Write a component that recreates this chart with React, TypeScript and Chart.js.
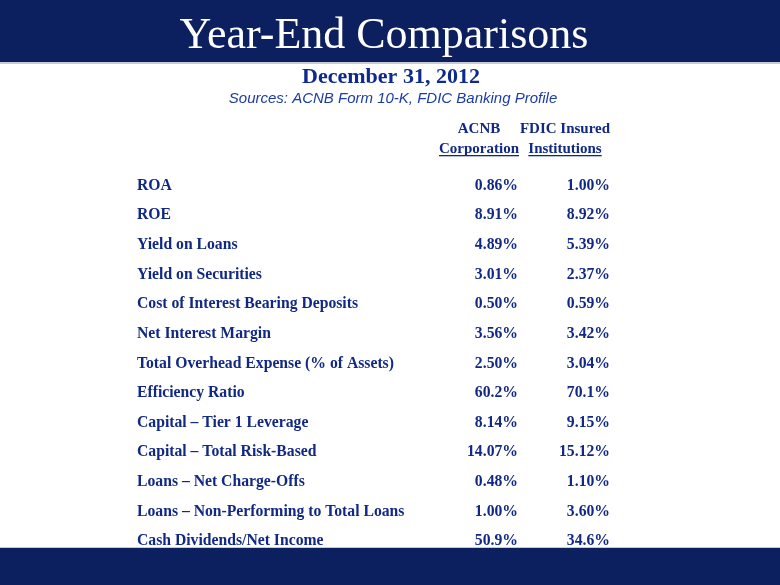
import { useEffect, useRef } from 'react';
import { Chart, registerables } from 'chart.js';

Chart.register(...registerables);

const titleText = 'Year-End Comparisons';
const subtitleText = 'December 31, 2012';
const sourceText = 'Sources: ACNB Form 10-K, FDIC Banking Profile';

const rowLabels = [
  'ROA',
  'ROE',
  'Yield on Loans',
  'Yield on Securities',
  'Cost of Interest Bearing Deposits',
  'Net Interest Margin',
  'Total Overhead Expense (% of Assets)',
  'Efficiency Ratio',
  'Capital \u2013 Tier 1 Leverage',
  'Capital \u2013 Total Risk-Based',
  'Loans \u2013 Net Charge-Offs',
  'Loans \u2013 Non-Performing to Total Loans',
  'Cash Dividends/Net Income',
];

const acnbValues = [0.86, 8.91, 4.89, 3.01, 0.5, 3.56, 2.5, 60.2, 8.14, 14.07, 0.48, 1.0, 50.9];
const fdicValues = [1.0, 8.92, 5.39, 2.37, 0.59, 3.42, 3.04, 70.1, 9.15, 15.12, 1.1, 3.6, 34.6];
const valueDecimals = [2, 2, 2, 2, 2, 2, 2, 1, 2, 2, 2, 2, 1];

const acnbHeader = ['ACNB', 'Corporation'];
const fdicHeader = ['FDIC Insured', 'Institutions'];

const BAND = '#0c1f5f';
const TEXT = '#112884';
const SERIF = '"Times New Roman", "Liberation Serif", serif';
const SANS = 'Arial, "Liberation Sans", sans-serif';

export default function App() {
  const ref = useRef<HTMLCanvasElement>(null);

  useEffect(() => {
    const canvas = ref.current;
    if (!canvas) return;

    const slidePlugin = {
      id: 'slide',
      beforeDraw(chart: any) {
        const { ctx, width, height } = chart;
        ctx.save();
        ctx.fillStyle = '#ffffff';
        ctx.fillRect(0, 0, width, height);
        ctx.fillStyle = BAND;
        ctx.fillRect(0, 0, width, 62);
        ctx.fillStyle = '#c8cad6';
        ctx.fillRect(0, 62, width, 2);
        ctx.fillRect(0, 547, width, 1);
        ctx.fillStyle = BAND;
        ctx.fillRect(0, 548, width, height - 548);

        ctx.textAlign = 'center';
        ctx.textBaseline = 'alphabetic';
        ctx.fillStyle = '#ffffff';
        ctx.font = `44px ${SERIF}`;
        ctx.fillText(titleText, 384, 48);

        ctx.fillStyle = '#0e2a8c';
        ctx.font = `bold 22px ${SERIF}`;
        ctx.fillText(subtitleText, 391, 83);

        ctx.fillStyle = '#1c3ca6';
        ctx.font = `italic 15px ${SANS}`;
        ctx.fillText(sourceText, 393, 103);
        ctx.restore();
      },
      afterDatasetsDraw(chart: any) {
        const { ctx } = chart;
        const xs = chart.scales.x;
        const ys = chart.scales.y;
        ctx.save();
        ctx.fillStyle = TEXT;
        ctx.strokeStyle = TEXT;

        // column headers
        ctx.font = `bold 15px ${SERIF}`;
        ctx.textAlign = 'center';
        ctx.textBaseline = 'alphabetic';
        const headers = [
          { lines: acnbHeader, cx: xs.getPixelForValue(1) - 39 },
          { lines: fdicHeader, cx: xs.getPixelForValue(2) - 45 },
        ];
        headers.forEach((h) => {
          ctx.fillText(h.lines[0], h.cx, 133);
          ctx.fillText(h.lines[1], h.cx, 153);
          const w = ctx.measureText(h.lines[1]).width;
          ctx.fillRect(h.cx - w / 2, 155, w, 1.3);
        });

        // row labels
        ctx.font = `bold 15.7px ${SERIF}`;
        ctx.textBaseline = 'middle';
        ctx.textAlign = 'left';
        rowLabels.forEach((lab, i) => {
          ctx.fillText(lab, 137, ys.getPixelForValue(i));
        });

        // values
        ctx.textAlign = 'right';
        chart.data.datasets.forEach((ds: any, di: number) => {
          const meta = chart.getDatasetMeta(di);
          const src = di === 0 ? acnbValues : fdicValues;
          meta.data.forEach((el: any, i: number) => {
            ctx.fillText(src[i].toFixed(valueDecimals[i]) + '%', el.x, el.y);
          });
        });
        ctx.restore();
      },
    };

    const chart = new Chart(canvas, {
      type: 'scatter',
      data: {
        datasets: [
          {
            label: 'ACNB Corporation',
            data: acnbValues.map((_, i) => ({ x: 1, y: rowLabels[i] })) as any,
            pointRadius: 0,
            showLine: false,
          },
          {
            label: 'FDIC Insured Institutions',
            data: fdicValues.map((_, i) => ({ x: 2, y: rowLabels[i] })) as any,
            pointRadius: 0,
            showLine: false,
          },
        ],
      },
      options: {
        responsive: false,
        animation: false,
        events: [],
        layout: { padding: { left: 426, right: 170, top: 171, bottom: 29 } },
        plugins: {
          legend: { display: false },
          tooltip: { enabled: false },
        },
        scales: {
          x: { type: 'linear', min: 0, max: 2, display: false },
          y: { type: 'category', labels: rowLabels, offset: true, display: false },
        },
      },
      plugins: [slidePlugin],
    });

    return () => chart.destroy();
  }, []);

  return (
    <div style={{ position: 'fixed', left: 0, top: 0, width: 780, height: 585 }}>
      <canvas ref={ref} width={780} height={585} style={{ display: 'block' }} />
    </div>
  );
}
